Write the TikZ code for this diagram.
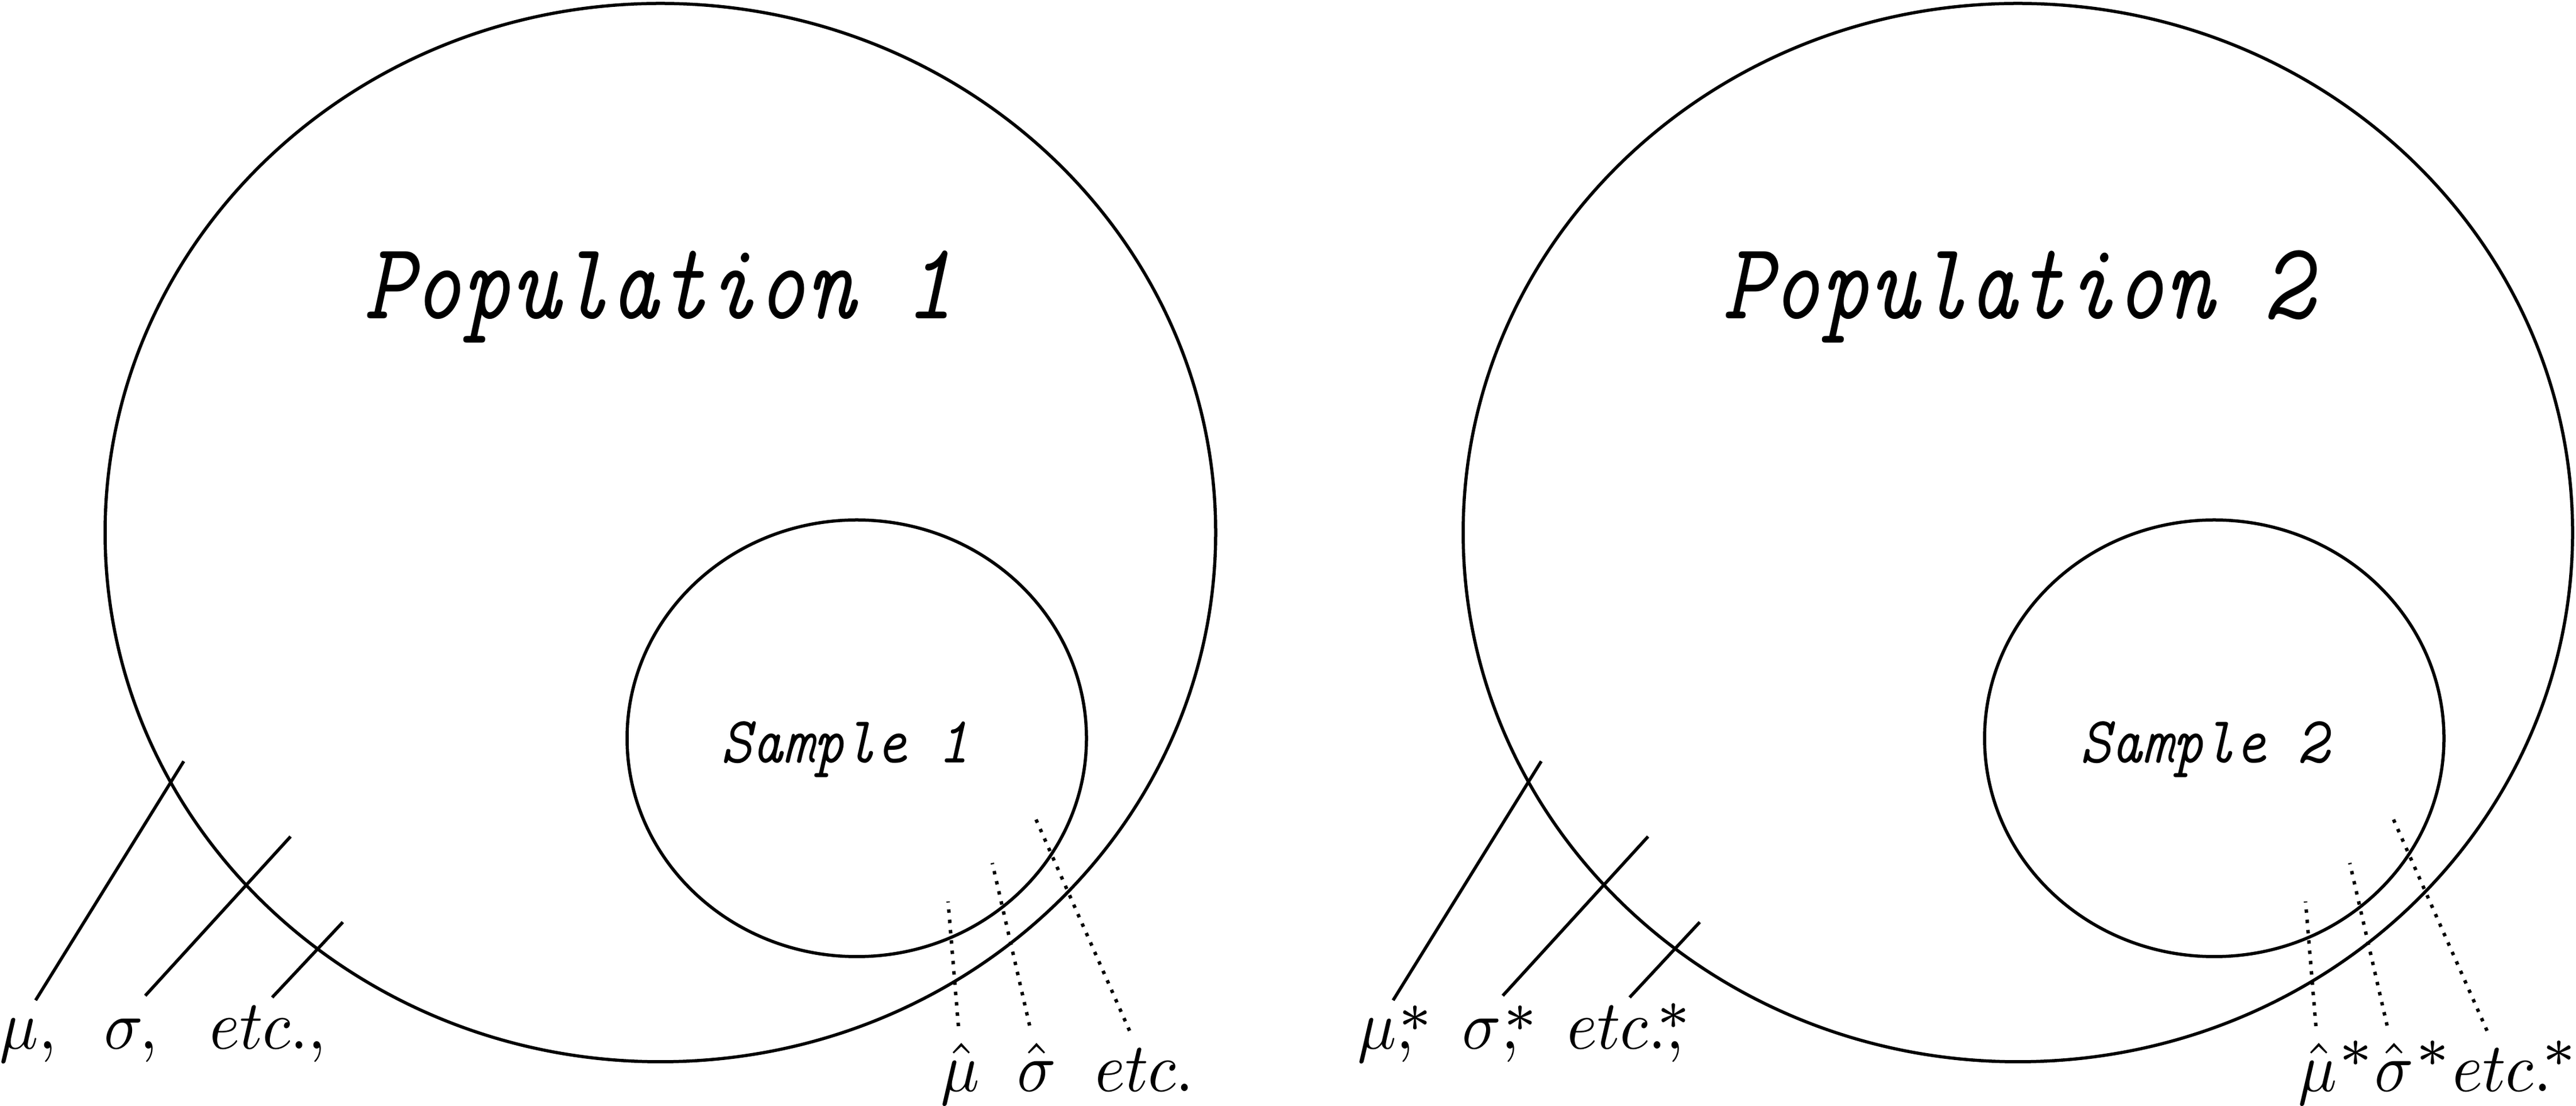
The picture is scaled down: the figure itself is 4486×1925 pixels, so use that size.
\documentclass[tikz,border=0pt]{standalone}
\begin{document}
\begin{tikzpicture}[x=0.1pt,y=-0.1pt,
  ring/.style={draw, line width=0.55pt},
  solidlink/.style={draw, line width=0.55pt},
  dotlink/.style={draw, line width=0.6pt, dash pattern=on 0.6pt off 1.2pt},
  lbl/.style={anchor=base west, inner sep=0pt, outer sep=0pt}]
\newcommand{\ttl}[1]{\scalebox{1.63}[1.907]{\ttfamily\itshape #1}}
\newcommand{\smp}[1]{\scalebox{1.03}[1.154]{\ttfamily\itshape #1}}
\newcommand{\mlb}[1]{\scalebox{1.12}[1.21]{#1}}
\newcommand{\bigst}{\scalebox{1.6}{$\scriptscriptstyle\ast$}}
\newcommand{\ovst}[2][0pt]{\rlap{\kern#1\raisebox{#2}{$^{\bigst}$}}}
\useasboundingbox (0,0) rectangle (4486,1925);

% ---------- Population 1 ----------
\draw[ring] (1150,927) ellipse [x radius=967, y radius=921];
\draw[ring] (1492,1285) ellipse [x radius=400, y radius=380];
\node[lbl] (t1) at (634,555) {\ttl{Population 1}};
\node[lbl] (sa1) at (1255,1328) {\smp{Sample 1}};

\coordinate (m1a) at (62,1741);  \coordinate (m1b) at (320,1325);
\coordinate (s1a) at (253,1733); \coordinate (s1b) at (506,1456);
\coordinate (e1a) at (474,1736); \coordinate (e1b) at (597,1605);
\draw[solidlink] (m1a) -- (m1b);
\draw[solidlink] (s1a) -- (s1b);
\draw[solidlink] (e1a) -- (e1b);

\coordinate (hm1a) at (1669,1786); \coordinate (hm1b) at (1651,1569);
\coordinate (hs1a) at (1793,1785); \coordinate (hs1b) at (1728,1502);
\coordinate (he1a) at (1967,1794); \coordinate (he1b) at (1800,1417);
\draw[dotlink] (hm1a) -- (hm1b);
\draw[dotlink] (hs1a) -- (hs1b);
\draw[dotlink] (he1a) -- (he1b);

\node[lbl] (lm1) at (0,1826)   {\mlb{$\mu,$}};
\node[lbl] (ls1) at (182,1826) {\mlb{$\sigma,$}};
\node[lbl] (le1) at (365,1826) {\mlb{$etc.,$}};
\node[lbl] (rm1) at (1638,1900) {\mlb{$\hat\mu$}};
\node[lbl] (rs1) at (1771,1900) {\mlb{$\hat\sigma$}};
\node[lbl] (re1) at (1907,1900) {\mlb{$etc.$}};

% ---------- Population 2 ----------
\draw[ring] (3514,927) ellipse [x radius=966, y radius=921];
\draw[ring] (3856,1285) ellipse [x radius=400, y radius=380];
\node[lbl] (t2) at (3000,555) {\ttl{Population 2}};
\node[lbl] (sa2) at (3622,1328) {\smp{Sample 2}};

\coordinate (m2a) at (2426,1741); \coordinate (m2b) at (2684,1325);
\coordinate (s2a) at (2617,1733); \coordinate (s2b) at (2870,1456);
\coordinate (e2a) at (2838,1736); \coordinate (e2b) at (2960,1605);
\draw[solidlink] (m2a) -- (m2b);
\draw[solidlink] (s2a) -- (s2b);
\draw[solidlink] (e2a) -- (e2b);

\coordinate (hm2a) at (4033,1786); \coordinate (hm2b) at (4015,1569);
\coordinate (hs2a) at (4157,1785); \coordinate (hs2b) at (4092,1502);
\coordinate (he2a) at (4331,1794); \coordinate (he2b) at (4164,1417);
\draw[dotlink] (hm2a) -- (hm2b);
\draw[dotlink] (hs2a) -- (hs2b);
\draw[dotlink] (he2a) -- (he2b);

\node[lbl] (lm2) at (2364,1826) {\mlb{$\mu\ovst{-1.1pt},$}};
\node[lbl] (ls2) at (2546,1826) {\mlb{$\sigma\ovst{-1.1pt},$}};
\node[lbl] (le2) at (2729,1826) {\mlb{$etc\ovst[1pt]{-0.8pt}.,$}};
\node[lbl] (rm2) at (4002,1900) {\mlb{$\hat\mu^{\bigst}$}};
\node[lbl] (rs2) at (4135,1900) {\mlb{$\hat\sigma^{\bigst}$}};
\node[lbl] (re2) at (4271,1900) {\mlb{$etc\ovst[1pt]{0pt}.$}};
\end{tikzpicture}
\end{document}
